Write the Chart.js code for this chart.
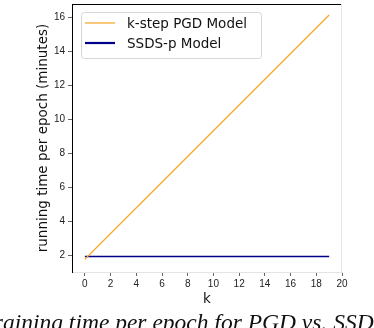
<!DOCTYPE html>
<html>
<head>
<meta charset="utf-8">
<script src="https://cdn.jsdelivr.net/npm/chart.js@4.4.0/dist/chart.umd.min.js"></script>
<style>
  html, body { margin: 0; padding: 0; background: #fff; overflow: hidden; }
  #wrap { position: relative; width: 374px; height: 328px; overflow: hidden; }
  #caption {
    position: absolute; left: -18px; top: 309px; white-space: nowrap;
    font: italic 23.5px "Liberation Serif", serif; color: #111;
  }
</style>
</head>
<body>
<div id="wrap">
  <canvas id="chart" width="374" height="328"></canvas>
  <div id="caption">Training time per epoch for PGD vs. SSDS-p Model</div>
</div>
<script>
// values
const kPoints = [0, 19];
const pgdTime = [1.75, 16.15];
const ssdsTime = [1.92, 1.92];
const seriesNames = ["k-step PGD Model", "SSDS-p Model"];
const xTicks = [0, 2, 4, 6, 8, 10, 12, 14, 16, 18, 20];
const yTicks = [2, 4, 6, 8, 10, 12, 14, 16];

const toXY = (xs, ys) => xs.map((x, i) => ({ x: x, y: ys[i] }));

// box legend in upper left like matplotlib, plus top/right spines
const boxLegend = {
  id: 'boxLegend',
  afterDraw(chart) {
    const ctx = chart.ctx;
    const x0 = 81, y0 = 12, w = 180, h = 46;
    ctx.save();
    ctx.fillStyle = 'rgba(255,255,255,0.8)';
    ctx.strokeStyle = '#d6d6d6';
    ctx.lineWidth = 1;
    ctx.beginPath();
    ctx.roundRect(x0 + 0.5, y0 + 0.5, w, h, 3);
    ctx.fill(); ctx.stroke();
    ctx.font = '13.5px "DejaVu Sans"';
    ctx.textBaseline = 'middle';
    chart.data.datasets.forEach((ds, i) => {
      const ly = 23 + i * 20;
      ctx.strokeStyle = ds.borderColor;
      ctx.lineWidth = ds.legendWidth;
      ctx.beginPath(); ctx.moveTo(85, ly); ctx.lineTo(115, ly); ctx.stroke();
      ctx.fillStyle = '#111';
      ctx.fillText(ds.label, 127, ly + 1);
    });
    const a = chart.chartArea;
    ctx.strokeStyle = '#000'; ctx.lineWidth = 1;
    ctx.beginPath(); ctx.moveTo(a.left, a.top + 0.5); ctx.lineTo(a.right, a.top + 0.5); ctx.stroke();
    ctx.strokeStyle = '#e4e4e4';
    ctx.beginPath(); ctx.moveTo(a.right - 0.5, a.top); ctx.lineTo(a.right - 0.5, a.bottom); ctx.stroke();
    ctx.restore();
  }
};

new Chart(document.getElementById('chart'), {
  type: 'line',
  data: {
    datasets: [
      { label: seriesNames[0], data: toXY(kPoints, pgdTime), borderColor: '#f5a623', borderWidth: 1.2, legendWidth: 1.2, pointRadius: 0, tension: 0 },
      { label: seriesNames[1], data: toXY(kPoints, ssdsTime), borderColor: '#00008b', borderWidth: 1.5, legendWidth: 2.2, pointRadius: 0, tension: 0 }
    ]
  },
  options: {
    responsive: false,
    animation: false,
    layout: { padding: { left: 0, top: 4, right: 32, bottom: 16 } },
    plugins: { legend: { display: false }, tooltip: { enabled: false } },
    scales: {
      x: {
        type: 'linear', min: -1, max: 20,
        afterBuildTicks: s => { s.ticks = xTicks.map(v => ({ value: v })); },
        afterFit: s => { s.height = 40; s.paddingLeft = 0; s.paddingRight = 0; },
        grid: { drawOnChartArea: false, drawTicks: true, tickLength: 4, color: '#666' },
        border: { color: '#e4e4e4' },
        ticks: { color: '#222', font: { family: 'Liberation Sans', size: 10 }, padding: 2, maxRotation: 0 },
        title: { display: true, text: 'k', color: '#111', font: { family: 'DejaVu Sans', size: 13.5 }, padding: { top: 0, bottom: 4 } }
      },
      y: {
        type: 'linear', min: 1, max: 16.8,
        afterBuildTicks: s => { s.ticks = yTicks.map(v => ({ value: v })); },
        afterFit: s => { s.width = 72; s.paddingTop = 0; s.paddingBottom = 0; },
        grid: { drawOnChartArea: false, drawTicks: true, tickLength: 4, color: '#666' },
        border: { color: '#000' },
        ticks: { color: '#222', font: { family: 'Liberation Sans', size: 10 }, padding: 3 },
        title: { display: true, text: 'running time per epoch (minutes)', color: '#111', font: { family: 'DejaVu Sans', size: 13.5 }, padding: { top: 35, bottom: 0 } }
      }
    }
  },
  plugins: [boxLegend]
});
</script>
</body>
</html>
